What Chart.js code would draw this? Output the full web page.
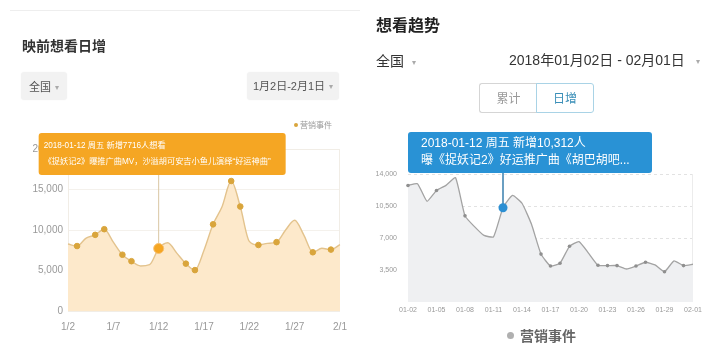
<!DOCTYPE html>
<html>
<head>
<meta charset="utf-8">
<script src="https://cdn.jsdelivr.net/npm/chart.js@4/dist/chart.umd.min.js"></script>
<style>
  html,body{margin:0;padding:0;background:#fff;}
  body{width:716px;height:355px;position:relative;overflow:hidden;font-family:"Liberation Sans","Noto Sans CJK SC",sans-serif;}
  canvas{position:absolute;top:0;}
  .abs{position:absolute;white-space:nowrap;}
  .pill{position:absolute;background:#f2f2f2;border-radius:3px;color:#555;font-size:11px;line-height:28px;height:28px;box-shadow:0 0 2px rgba(0,0,0,0.04);}
  .arr{color:#aaa;font-size:8px;margin-left:4px;vertical-align:1px;}
</style>
</head>
<body>
<canvas id="cL" width="360" height="355" style="left:0"></canvas>
<canvas id="cR" width="354" height="355" style="left:362px"></canvas>

<!-- left panel header -->
<div class="abs" style="left:10px;top:10px;width:350px;height:1px;background:#eeeeee"></div>
<div class="abs" style="left:22px;top:36px;font-size:14px;font-weight:bold;color:#333;line-height:18px;font-family:'Noto Sans CJK SC',sans-serif">映前想看日增</div>
<div class="pill" style="left:21px;top:72px;width:46px;text-align:center;font-family:'Noto Sans CJK SC',sans-serif">全国<span class="arr">▾</span></div>
<div class="pill" style="left:247px;top:72px;width:92px;text-align:center;font-family:'Liberation Sans','Noto Sans CJK SC',sans-serif">1月2日-2月1日<span class="arr">▾</span></div>
<div class="abs" style="left:294px;top:119px;font-size:8px;color:#999;line-height:12px;font-family:'Noto Sans CJK SC',sans-serif"><span style="display:inline-block;width:4px;height:4px;border-radius:2px;background:#d9a53c;margin-right:2px;vertical-align:1px"></span>营销事件</div>

<!-- right panel header -->
<div class="abs" style="left:376px;top:14px;font-size:16px;font-weight:bold;color:#222;line-height:20px;font-family:'Noto Sans CJK SC',sans-serif">想看趋势</div>
<div class="abs" style="left:376px;top:51px;font-size:14px;color:#333;line-height:18px;font-family:'Noto Sans CJK SC',sans-serif">全国<span class="arr" style="margin-left:8px">▾</span></div>
<div class="abs" style="left:509px;top:51px;font-size:14px;color:#333;line-height:18px">2018年01月02日 - 02月01日<span class="arr" style="margin-left:11px">▾</span></div>
<div class="abs" style="left:479px;top:83px;width:57px;height:28px;border:1px solid #d5d5d5;border-right:none;border-radius:3px 0 0 3px;text-align:center;line-height:28px;font-size:12px;color:#999;font-family:'Noto Sans CJK SC',sans-serif">累计</div>
<div class="abs" style="left:536px;top:83px;width:56px;height:28px;border:1px solid #a9d3e6;border-radius:0 3px 3px 0;text-align:center;line-height:28px;font-size:12px;color:#3b8fb8;font-family:'Noto Sans CJK SC',sans-serif">日增</div>
<div class="abs" style="left:507px;top:326px;font-size:14px;color:#666;font-weight:bold;line-height:18px;font-family:'Noto Sans CJK SC',sans-serif"><span style="display:inline-block;width:7px;height:7px;border-radius:4px;background:#b0b0b0;margin-right:6px;vertical-align:2px"></span>营销事件</div>

<script>
// ---------- left chart data ----------
const leftDates = ['1/2','1/3','1/4','1/5','1/6','1/7','1/8','1/9','1/10','1/11','1/12','1/13','1/14','1/15','1/16','1/17','1/18','1/19','1/20','1/21','1/22','1/23','1/24','1/25','1/26','1/27','1/28','1/29','1/30','1/31','2/1'];
const leftValues = [8270,8020,9000,9400,10100,8500,6950,6150,5560,5720,7716,8430,7140,5850,5050,7500,10700,12900,16050,12900,8600,8150,8350,8500,10000,11200,9400,7250,7740,7580,8200];
const leftEvents = ['1/3','1/5','1/6','1/8','1/9','1/15','1/16','1/18','1/20','1/21','1/23','1/25','1/29','1/31'];
const leftTickLabels = ['1/2','1/7','1/12','1/17','1/22','1/27','2/1'];
const leftYTicks = [0,5000,10000,15000,20000];
const leftHighlight = '1/12';
const leftTipLines = ['2018-01-12 周五 新增7716人想看','《捉妖记2》曝推广曲MV，沙溢胡可安吉小鱼儿演绎“好运神曲”'];

// ---------- right chart data ----------
const rightDates = ['01-02','01-03','01-04','01-05','01-06','01-07','01-08','01-09','01-10','01-11','01-12','01-13','01-14','01-15','01-16','01-17','01-18','01-19','01-20','01-21','01-22','01-23','01-24','01-25','01-26','01-27','01-28','01-29','01-30','01-31','02-01'];
const rightValues = [12750,12940,11020,12200,12760,13600,9420,8240,7280,7130,10312,11650,10800,8500,5240,3940,4240,6090,6610,5350,4020,3980,3980,3610,3940,4350,4060,3310,4500,3980,4130];
const rightEvents = ['01-02','01-05','01-08','01-16','01-17','01-18','01-19','01-22','01-23','01-24','01-26','01-27','01-29','01-31'];
const rightTickLabels = ['01-02','01-05','01-08','01-11','01-14','01-17','01-20','01-23','01-26','01-29','02-01'];
const rightYTicks = [3500,7000,10500,14000];
const rightHighlight = '01-12';
const rightTipLines = ['2018-01-12 周五 新增10,312人','曝《捉妖记2》好运推广曲《胡巴胡吧...'];

function roundRect(ctx,x,y,w,h,r){
  ctx.beginPath();
  ctx.moveTo(x+r,y);ctx.lineTo(x+w-r,y);ctx.quadraticCurveTo(x+w,y,x+w,y+r);
  ctx.lineTo(x+w,y+h-r);ctx.quadraticCurveTo(x+w,y+h,x+w-r,y+h);
  ctx.lineTo(x+r,y+h);ctx.quadraticCurveTo(x,y+h,x,y+h-r);
  ctx.lineTo(x,y+r);ctx.quadraticCurveTo(x,y,x+r,y);ctx.closePath();
}

function tipPlugin(cfg){
  return {
    id:'tip'+cfg.name,
    beforeDatasetsDraw(chart){
      const ctx=chart.ctx, a=chart.chartArea;
      if(cfg.frame){ctx.save();ctx.strokeStyle=cfg.frame;ctx.lineWidth=1;
        if(cfg.frameAll){ctx.strokeRect(a.left+0.5,a.top+0.5,a.right-a.left-1,a.bottom-a.top);} 
        else {ctx.beginPath();ctx.moveTo(a.right-0.5,a.top);ctx.lineTo(a.right-0.5,a.bottom);ctx.stroke();}
        ctx.restore();}
      const idx=chart.data.labels.indexOf(cfg.hl);
      const px=chart.scales.x.getPixelForValue(idx);
      ctx.save();ctx.strokeStyle=cfg.vColor;ctx.lineWidth=cfg.vWidth;
      ctx.beginPath();ctx.moveTo(px,a.top+cfg.boxTop+cfg.boxH);ctx.lineTo(px,a.bottom);ctx.stroke();ctx.restore();
    },
    afterDraw(chart){
      const ctx=chart.ctx, a=chart.chartArea;
      const idx=chart.data.labels.indexOf(cfg.hl);
      const px=chart.scales.x.getPixelForValue(idx);
      const x=px+cfg.boxDx, y=a.top+cfg.boxTop;
      ctx.save();
      ctx.fillStyle=cfg.boxColor;roundRect(ctx,x,y,cfg.boxW,cfg.boxH,3);ctx.fill();
      ctx.fillStyle='#fff';ctx.font=cfg.font;ctx.textBaseline='middle';
      cfg.lines.forEach((t,i)=>ctx.fillText(t,x+cfg.padX,y+cfg.line1+i*cfg.lineGap));
      ctx.restore();
    }
  };
}

const lRadius=leftDates.map(d=>d===leftHighlight?5:(leftEvents.includes(d)?2.8:0));
const lColor=leftDates.map(d=>d===leftHighlight?'#f5a623':'#d9a53c');
const lBorder=leftDates.map(d=>d===leftHighlight?'#f8c070':'#d9a53c');

new Chart(document.getElementById('cL'),{
  type:'line',
  data:{labels:leftDates,datasets:[{data:leftValues,borderColor:'#e3c38d',borderWidth:1.4,backgroundColor:'#fde9cb',fill:'origin',
    cubicInterpolationMode:'monotone',pointRadius:lRadius,pointBackgroundColor:lColor,pointBorderColor:lBorder,pointBorderWidth:1}]},
  options:{responsive:false,animation:false,events:[],
    layout:{padding:{top:149,right:20,bottom:20,left:0}},
    plugins:{legend:{display:false},tooltip:{enabled:false}},
    scales:{
      x:{grid:{display:false,drawTicks:false},border:{display:false},
        ticks:{autoSkip:false,maxRotation:0,padding:10,color:'#999',font:{size:10,family:'Liberation Sans'},
          callback(v){const l=this.getLabelForValue(v);return leftTickLabels.includes(l)?l:'';}},
        afterFit(s){s.height=24;}},
      y:{min:0,max:20000,afterBuildTicks(s){s.ticks=leftYTicks.map(v=>({value:v}));},
        ticks:{padding:5,color:'#999',font:{size:10,family:'Liberation Sans'}},
        grid:{color:'#f4f1ec',drawTicks:false},border:{display:false},afterFit(s){s.width=68;}}
    }},
  plugins:[tipPlugin({name:'L',hl:leftHighlight,frame:'#f1ede6',frameAll:true,vColor:'#d9c7a3',vWidth:1,
    boxDx:-120,boxTop:-16,boxW:247,boxH:42,boxColor:'#f5a623',font:'8.2px "Liberation Sans","Noto Sans CJK SC"',
    padX:5,line1:13,lineGap:16,lines:leftTipLines})]
});

const rRadius=rightDates.map(d=>d===rightHighlight?4.5:(rightEvents.includes(d)?1.8:0));
const rColor=rightDates.map(d=>d===rightHighlight?'#2b8fd3':'#8f8f8f');

new Chart(document.getElementById('cR'),{
  type:'line',
  data:{labels:rightDates,datasets:[{data:rightValues,borderColor:'#a3a3a3',borderWidth:1.3,backgroundColor:'#eff0f2',fill:'origin',
    tension:0.15,pointRadius:rRadius,pointBackgroundColor:rColor,pointBorderColor:rColor,pointBorderWidth:0}]},
  options:{responsive:false,animation:false,events:[],
    layout:{padding:{top:174,right:23,bottom:35,left:0}},
    plugins:{legend:{display:false},tooltip:{enabled:false}},
    scales:{
      x:{grid:{display:false,drawTicks:false},border:{display:false},
        ticks:{autoSkip:false,maxRotation:0,padding:4,color:'#999',font:{size:7,family:'Liberation Sans'},
          callback(v){const l=this.getLabelForValue(v);return rightTickLabels.includes(l)?l:'';}},
        afterFit(s){s.height=18;}},
      y:{min:0,max:14000,afterBuildTicks(s){s.ticks=rightYTicks.map(v=>({value:v}));},
        ticks:{padding:11,color:'#999',font:{size:7,family:'Liberation Sans'}},
        grid:{color:'#e2e2e2',drawTicks:false},border:{display:false,dash:[3,3]},afterFit(s){s.width=46;}}
    }},
  plugins:[tipPlugin({name:'R',hl:rightHighlight,frame:'#ececec',frameAll:false,vColor:'#6a9fc2',vWidth:2,
    boxDx:-95,boxTop:-42,boxW:244,boxH:41,boxColor:'#2992d5',font:'12px "Liberation Sans","Noto Sans CJK SC"',
    padX:13,line1:12,lineGap:17,lines:rightTipLines})]
});
</script>
</body>
</html>
